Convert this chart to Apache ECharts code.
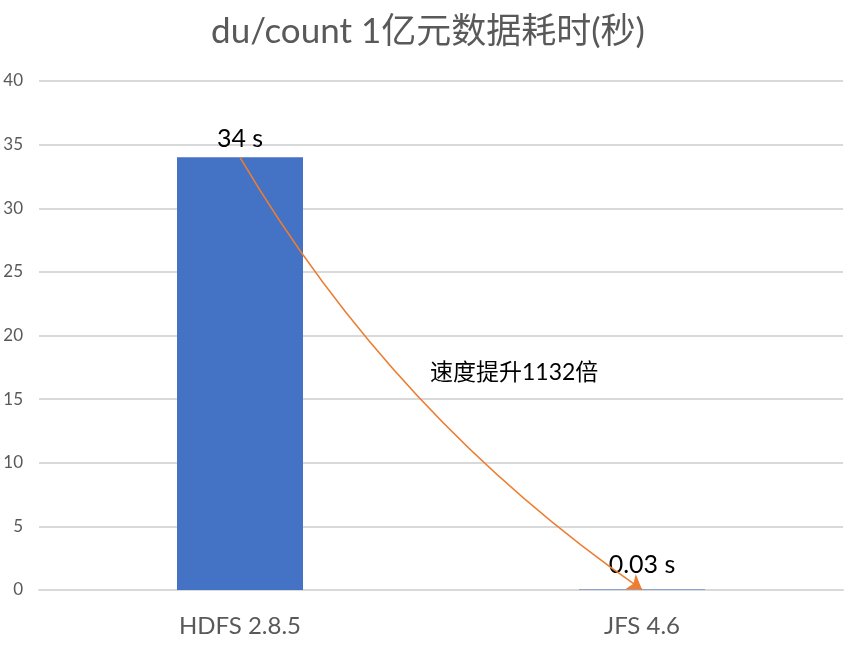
<!DOCTYPE html>
<html>
<head>
<meta charset="utf-8">
<script src="https://cdn.jsdelivr.net/npm/echarts@6/dist/echarts.min.js"></script>
<style>
  html, body { margin: 0; padding: 0; background: #fff; }
  #chart { width: 856px; height: 648px; }
</style>
</head>
<body>
<div id="chart"></div>
<script>
const titleText = "du/count 1亿元数据耗时(秒)";
const categories = ["HDFS 2.8.5", "JFS 4.6"];
const seconds = [34, 0.03];
const speedupText = "速度提升1132倍";
const yTicks = { min: 0, max: 40, step: 5 };

const font = "Lato, 'Noto Sans CJK SC', sans-serif";

const chart = echarts.init(document.getElementById("chart"));

const option = {
  backgroundColor: "#ffffff",
  animation: false,
  title: {
    text: titleText,
    left: "center",
    top: 9,
    textStyle: { color: "#595959", fontSize: 35, fontWeight: "normal", fontFamily: font }
  },
  grid: { left: 39, right: 13, top: 81, bottom: 58, containLabel: false },
  xAxis: {
    type: "category",
    data: categories,
    axisTick: { show: false },
    axisLine: { lineStyle: { color: "#d9d9d9", width: 2 } },
    axisLabel: { color: "#595959", fontSize: 24, margin: 24, fontFamily: font }
  },
  yAxis: {
    type: "value",
    min: yTicks.min,
    max: yTicks.max,
    interval: yTicks.step,
    axisLine: { show: false },
    axisTick: { show: false },
    axisLabel: { color: "#595959", fontSize: 17, margin: 16, fontFamily: font },
    splitLine: { lineStyle: { color: "#d9d9d9", width: 2 } }
  },
  series: [
    {
      type: "bar",
      data: [
        seconds[0],
        { value: seconds[1], label: { distance: 12 } }
      ],
      barWidth: 126,
      itemStyle: { color: "#4472C4" },
      label: {
        show: true,
        position: "top",
        distance: 6,
        formatter: "{c} s",
        color: "#000",
        fontSize: 25,
        fontFamily: font
      },
      z: 2
    },
    {
      // 从 HDFS 柱顶到 JFS 柱顶的弧形箭头
      type: "lines",
      coordinateSystem: "cartesian2d",
      symbol: ["none", "arrow"],
      symbolSize: 14,
      lineStyle: { color: "#ED7D31", width: 1.6, curveness: -0.11, opacity: 1 },
      data: [{ coords: [[categories[0], seconds[0]], [categories[1], seconds[1]]] }],
      z: 3
    }
  ],
  graphic: [
    {
      type: "text",
      left: 430,
      top: 361,
      style: { text: speedupText, fill: "#000", fontSize: 23, fontFamily: font }
    }
  ]
};

chart.setOption(option);
</script>
</body>
</html>
